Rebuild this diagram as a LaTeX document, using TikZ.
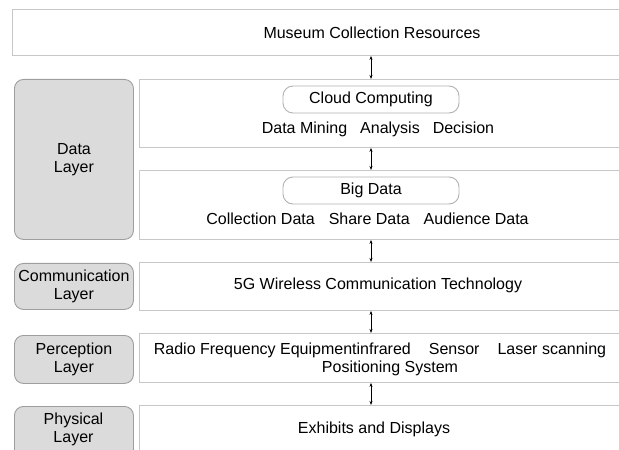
\documentclass[tikz,border=0pt]{standalone}
\usepackage{fontspec}
\setmainfont{Liberation Sans}
\usetikzlibrary{arrows.meta}
\begin{document}
\begin{tikzpicture}[x=1bp,y=-1bp,
  font=\fontsize{16bp}{18bp}\selectfont,
  panel/.style={draw=black!22,line width=0.9bp,fill=white,rectangle,inner sep=0pt,anchor=north west},
  layer/.style={draw=black!38,line width=0.9bp,fill=black!14,rectangle,rounded corners=9bp,inner sep=0pt,anchor=north west,align=center},
  tag/.style={draw=black!30,line width=0.9bp,fill=white,rectangle,rounded corners=10bp,inner sep=0pt,minimum width=176bp,minimum height=27bp},
  txt/.style={inner sep=0pt,align=center},
  link/.style={line width=0.6bp,{Stealth[length=4bp,width=3bp]}-{Stealth[length=4bp,width=3bp]}}]
\useasboundingbox (0,0) rectangle (619,450);
\clip (0,0) rectangle (619,450);

% panels on the right
\node[panel,minimum width=620bp,minimum height=46bp] (top) at (12,9) {};
\node[panel,minimum width=492bp,minimum height=68bp] (cloudp) at (139,79) {};
\node[panel,minimum width=492bp,minimum height=69bp] (bigp) at (139,170) {};
\node[panel,minimum width=492bp,minimum height=48bp] (commp) at (139,262) {};
\node[panel,minimum width=492bp,minimum height=49bp] (percp) at (139,333) {};
\node[panel,minimum width=492bp,minimum height=60bp] (physp) at (139,405) {};

% layer labels on the left
\node[layer,minimum width=119bp,minimum height=160bp] (datal) at (14,79) {};
\node[txt] at (datal.center) {Data\\Layer};
\node[layer,minimum width=119bp,minimum height=46bp] (comml) at (14,263) {};
\node[txt] at (comml.center) {Communication\\Layer};
\node[layer,minimum width=119bp,minimum height=48bp] (percl) at (14,335) {};
\node[txt] at (percl.center) {Perception\\Layer};
\node[layer,minimum width=119bp,minimum height=60bp] (physl) at (14,406) {};
\node[txt] at (73.5,429) {Physical\\Layer};

% texts
\node[txt] (museum) at (372,33) {Museum Collection Resources};
\node[tag] (cloud) at (371,99.5) {Cloud Computing};
\node[txt] (cloudt) at (378,129) {Data Mining\hspace{13bp}Analysis\hspace{13bp}Decision};
\node[tag] (big) at (371,190.5) {Big Data};
\node[txt] (bigt) at (367.5,219) {Collection Data\hspace{14bp}Share Data\hspace{14bp}Audience Data};
\node[txt] (comm) at (378,285) {5G Wireless Communication Technology};
\node[txt] (perc1) at (380,350) {Radio Frequency Equipmentinfrared\hspace{18bp}Sensor\hspace{18bp}Laser scanning};
\node[txt] (perc2) at (390,368) {Positioning System};
\node[txt] (phys) at (374,429) {Exhibits and Displays};

% links between the panels
\draw[link] (top.south -| cloud) -- (cloudp.north -| cloud);
\draw[link] (cloudp.south -| cloud) -- (bigp.north -| cloud);
\draw[link] (bigp.south -| cloud) -- (commp.north -| cloud);
\draw[link] (commp.south -| cloud) -- (percp.north -| cloud);
\draw[link] (percp.south -| cloud) -- (physp.north -| cloud);
\end{tikzpicture}
\end{document}
